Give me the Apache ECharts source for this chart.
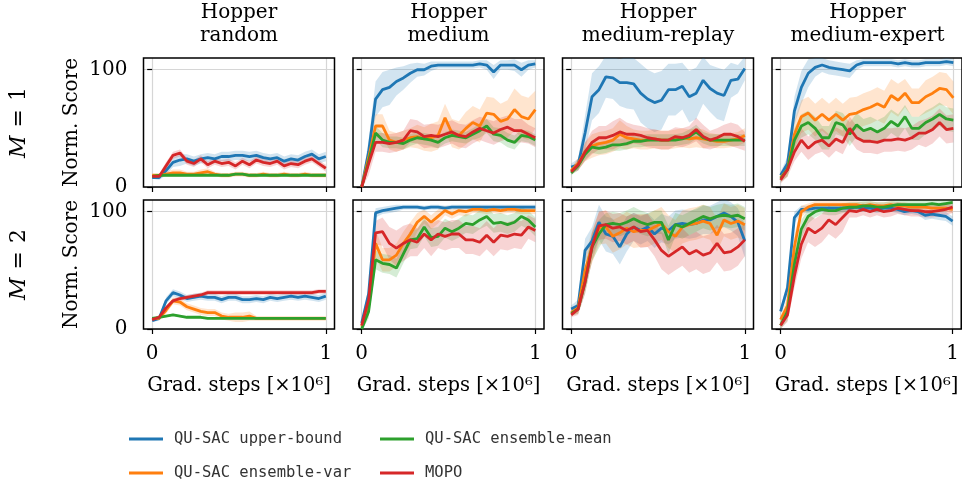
<!DOCTYPE html>
<html>
<head>
<meta charset="utf-8">
<script src="https://cdn.jsdelivr.net/npm/echarts@6/dist/echarts.min.js"></script>
<style>
  html, body { margin: 0; padding: 0; background: #fff; }
  #chart { width: 962px; height: 488px; }
</style>
</head>
<body>
<div id="chart"></div>
<script>
// x positions of the logged points (in 1e6 grad. steps)
const steps = [0, 0.04, 0.08, 0.12, 0.16, 0.2, 0.24, 0.28, 0.32, 0.36, 0.4, 0.44, 0.48,
  0.52, 0.56, 0.6, 0.64, 0.68, 0.72, 0.76, 0.8, 0.84, 0.88, 0.92, 0.96, 1];

const methodNames = ['QU-SAC upper-bound', 'QU-SAC ensemble-var', 'QU-SAC ensemble-mean', 'MOPO'];
const colors = ['#1f77b4', '#ff7f0e', '#2ca02c', '#d62728'];
const datasets = ['random', 'medium', 'medium-replay', 'medium-expert'];
const rowLabels = ['1', '2'];
const yTicks = [0, 100];
const xTicks = [0, 1];

// ---- M = 1 ----
const rnd1Ub = [8, 8, 14, 21, 23, 24, 22, 24, 25, 24, 26, 26, 27, 27, 26, 27, 25, 24, 25, 22, 24, 23, 26, 28, 24, 26];
const rnd1UbSd = [1, 2, 4, 4, 5, 4, 4, 4, 4, 4, 4, 4, 4, 4, 4, 4, 4, 4, 4, 4, 4, 4, 4, 4, 4, 4];
const rnd1Var = [10, 10, 11, 12, 12, 11, 11, 12, 13, 11, 10, 10, 11, 11, 10, 10, 11, 10, 10, 11, 10, 10, 11, 10, 10, 10];
const rnd1VarSd = [1, 1, 2, 3, 3, 2, 2, 3, 3, 2, 2, 2, 2, 2, 2, 2, 2, 2, 2, 2, 2, 2, 2, 2, 2, 2];
const rnd1Mean = [9, 10, 10, 10, 10, 10, 10, 10, 10, 10, 10, 10, 11, 11, 10, 10, 10, 10, 10, 10, 10, 10, 10, 10, 10, 10];
const rnd1MeanSd = [1, 1, 1, 1, 1, 1, 1, 1, 1, 1, 1, 1, 1, 1, 1, 1, 1, 1, 1, 1, 1, 1, 1, 1, 1, 1];
const rnd1Mopo = [9, 9, 18, 27, 29, 22, 20, 24, 19, 22, 20, 21, 18, 22, 19, 23, 21, 20, 22, 18, 20, 19, 22, 24, 20, 16];
const rnd1MopoSd = [1, 2, 3, 3, 3, 3, 3, 3, 3, 3, 3, 3, 3, 3, 3, 3, 3, 3, 3, 3, 3, 3, 3, 3, 3, 3];

const med1Ub = [0, 30, 75, 83, 85, 90, 93, 97, 100, 100, 103, 104, 104, 104, 104, 104, 104, 105, 104, 98, 104, 104, 104, 100, 104, 105];
const med1UbSd = [2, 10, 15, 15, 15, 12, 10, 8, 6, 5, 4, 3, 3, 3, 3, 3, 3, 3, 4, 6, 4, 4, 5, 6, 4, 3];
const med1Var = [0, 25, 52, 52, 40, 38, 40, 42, 43, 41, 42, 44, 59, 46, 44, 50, 55, 52, 63, 62, 56, 58, 66, 60, 58, 66];
const med1VarSd = [2, 8, 10, 10, 8, 8, 8, 8, 10, 10, 12, 12, 12, 12, 12, 14, 14, 14, 14, 14, 15, 16, 18, 18, 18, 16];
const med1Mean = [0, 22, 46, 40, 38, 38, 37, 40, 42, 41, 40, 38, 42, 44, 43, 42, 45, 48, 52, 45, 44, 40, 38, 44, 43, 40];
const med1MeanSd = [2, 6, 6, 6, 5, 5, 5, 5, 5, 5, 5, 5, 5, 5, 5, 5, 5, 6, 6, 6, 6, 6, 6, 5, 5, 5];
const med1Mopo = [0, 20, 38, 38, 37, 38, 40, 48, 47, 43, 44, 43, 45, 47, 44, 43, 47, 50, 48, 46, 49, 51, 48, 48, 45, 42];
const med1MopoSd = [2, 10, 8, 8, 8, 8, 8, 10, 10, 10, 10, 10, 10, 10, 10, 10, 10, 10, 10, 10, 10, 10, 10, 10, 8, 8];

const rep1Ub = [17, 19, 46, 77, 83, 94, 93, 89, 89, 88, 80, 75, 72, 74, 83, 83, 86, 77, 80, 91, 84, 80, 78, 91, 92, 101];
const rep1UbSd = [3, 5, 15, 20, 20, 18, 18, 20, 22, 22, 25, 25, 25, 25, 22, 22, 20, 22, 22, 20, 20, 22, 22, 15, 12, 10];
const rep1Var = [14, 20, 30, 35, 37, 38, 40, 45, 42, 41, 40, 40, 41, 40, 40, 41, 42, 41, 42, 41, 40, 39, 39, 40, 41, 44];
const rep1VarSd = [2, 5, 8, 10, 10, 10, 10, 12, 10, 8, 8, 8, 8, 8, 8, 8, 8, 8, 8, 8, 6, 6, 6, 6, 6, 6];
const rep1Mean = [12, 18, 28, 34, 33, 34, 36, 36, 37, 39, 39, 40, 40, 40, 40, 40, 41, 43, 47, 42, 40, 40, 40, 40, 40, 40];
const rep1MeanSd = [2, 4, 5, 5, 5, 5, 5, 5, 5, 5, 5, 5, 5, 5, 5, 5, 5, 6, 6, 5, 5, 5, 5, 5, 5, 5];
const rep1Mopo = [13, 19, 30, 38, 42, 42, 44, 47, 45, 45, 44, 42, 41, 40, 40, 43, 42, 44, 49, 43, 40, 42, 45, 45, 43, 39];
const rep1MopoSd = [2, 5, 8, 10, 10, 10, 12, 12, 10, 8, 8, 8, 8, 8, 8, 8, 8, 8, 10, 10, 8, 8, 8, 10, 10, 8];

const exp1Ub = [10, 20, 65, 85, 97, 102, 104, 102, 101, 100, 99, 104, 106, 106, 106, 106, 106, 105, 106, 105, 105, 106, 106, 106, 107, 106];
const exp1UbSd = [3, 6, 12, 14, 12, 8, 6, 6, 6, 6, 6, 4, 3, 3, 3, 3, 3, 3, 3, 3, 3, 3, 3, 3, 3, 3];
const exp1Var = [8, 15, 45, 60, 63, 57, 62, 57, 62, 57, 62, 63, 66, 68, 71, 68, 78, 74, 80, 72, 72, 77, 80, 84, 83, 76];
const exp1VarSd = [3, 6, 12, 14, 14, 14, 14, 14, 14, 14, 14, 14, 14, 14, 14, 14, 14, 14, 12, 12, 12, 14, 14, 14, 14, 14];
const exp1Mean = [7, 15, 40, 52, 55, 50, 42, 42, 55, 53, 45, 53, 48, 50, 47, 50, 56, 52, 60, 50, 50, 55, 58, 62, 58, 57];
const exp1MeanSd = [3, 6, 10, 10, 10, 10, 10, 10, 10, 10, 10, 10, 10, 10, 10, 10, 10, 10, 10, 10, 10, 10, 10, 10, 10, 10];
const exp1Mopo = [6, 15, 30, 40, 33, 38, 40, 35, 41, 38, 50, 42, 39, 39, 38, 40, 40, 41, 40, 42, 46, 46, 49, 55, 49, 50];
const exp1MopoSd = [3, 6, 8, 10, 10, 10, 10, 10, 10, 10, 10, 10, 10, 10, 10, 10, 10, 10, 10, 10, 10, 12, 12, 12, 12, 12];

// ---- M = 2 ----
const rnd2Ub = [7, 9, 24, 31, 29, 26, 27, 28, 27, 27, 25, 27, 27, 25, 25, 26, 25, 27, 26, 27, 28, 27, 28, 27, 26, 28];
const rnd2UbSd = [1, 2, 3, 3, 3, 3, 3, 3, 3, 3, 3, 3, 3, 3, 3, 3, 3, 3, 3, 3, 3, 3, 3, 3, 3, 3];
const rnd2Var = [9, 9, 16, 24, 23, 19, 17, 15, 14, 14, 11, 10, 10, 10, 11, 9, 9, 9, 9, 9, 9, 9, 9, 9, 9, 9];
const rnd2VarSd = [1, 1, 3, 3, 3, 3, 3, 3, 3, 3, 3, 3, 4, 4, 4, 2, 2, 2, 2, 2, 2, 2, 2, 2, 2, 2];
const rnd2Mean = [9, 10, 11, 12, 11, 10, 10, 10, 9, 9, 9, 9, 9, 9, 9, 9, 9, 9, 9, 9, 9, 9, 9, 9, 9, 9];
const rnd2MeanSd = [1, 1, 1, 1, 1, 1, 1, 1, 1, 1, 1, 1, 1, 1, 1, 1, 1, 1, 1, 1, 1, 1, 1, 1, 1, 1];
const rnd2Mopo = [8, 10, 18, 24, 26, 27, 28, 29, 31, 31, 31, 31, 31, 31, 31, 31, 31, 31, 31, 31, 31, 31, 31, 31, 32, 32];
const rnd2MopoSd = [1, 2, 2, 2, 2, 2, 2, 2, 2, 2, 2, 2, 2, 2, 2, 2, 2, 2, 2, 2, 2, 2, 2, 2, 2, 2];

const med2Ub = [5, 30, 99, 101, 102, 103, 104, 104, 104, 103, 104, 104, 103, 104, 104, 104, 104, 104, 104, 104, 104, 104, 104, 104, 104, 104];
const med2UbSd = [2, 6, 4, 3, 3, 3, 2, 2, 2, 2, 2, 2, 2, 2, 2, 2, 2, 2, 2, 2, 2, 2, 2, 2, 2, 2];
const med2Var = [2, 20, 73, 59, 59, 63, 73, 81, 91, 96, 91, 96, 101, 98, 101, 100, 102, 102, 101, 102, 101, 102, 102, 101, 101, 101];
const med2VarSd = [2, 8, 12, 10, 10, 10, 10, 10, 8, 6, 6, 6, 4, 4, 4, 4, 3, 3, 3, 3, 3, 3, 3, 3, 3, 3];
const med2Mean = [0, 15, 59, 56, 55, 52, 64, 76, 77, 87, 78, 79, 86, 83, 86, 90, 89, 93, 96, 90, 91, 89, 91, 96, 93, 87];
const med2MeanSd = [2, 6, 8, 8, 8, 8, 8, 8, 8, 8, 8, 8, 8, 8, 8, 8, 8, 8, 8, 8, 8, 8, 8, 8, 8, 8];
const med2Mopo = [3, 25, 82, 83, 73, 69, 73, 76, 74, 81, 76, 81, 79, 81, 81, 76, 76, 74, 80, 74, 80, 79, 81, 80, 87, 84];
const med2MopoSd = [2, 8, 10, 12, 14, 15, 15, 14, 12, 12, 14, 12, 12, 12, 12, 12, 12, 12, 12, 12, 12, 12, 12, 12, 10, 10];

const rep2Ub = [17, 20, 67, 75, 91, 81, 79, 70, 81, 87, 84, 87, 81, 86, 84, 89, 90, 89, 90, 93, 93, 96, 99, 96, 91, 75];
const rep2UbSd = [3, 5, 10, 12, 15, 15, 15, 15, 15, 12, 12, 12, 12, 12, 12, 12, 12, 12, 12, 12, 12, 12, 12, 12, 12, 14];
const rep2Var = [14, 18, 50, 70, 86, 87, 79, 82, 86, 83, 84, 84, 87, 90, 83, 79, 87, 89, 90, 92, 90, 80, 93, 90, 92, 89];
const rep2VarSd = [2, 5, 12, 14, 14, 14, 14, 14, 14, 14, 14, 14, 14, 14, 14, 14, 14, 14, 14, 14, 14, 14, 14, 14, 14, 14];
const rep2Mean = [13, 17, 40, 70, 81, 89, 90, 89, 91, 94, 91, 89, 91, 91, 76, 89, 87, 90, 93, 96, 94, 96, 97, 96, 97, 94];
const rep2MeanSd = [2, 4, 10, 12, 12, 10, 10, 10, 10, 10, 10, 10, 10, 10, 12, 10, 10, 10, 10, 10, 10, 10, 10, 10, 10, 10];
const rep2Mopo = [12, 17, 40, 70, 88, 89, 86, 87, 84, 87, 83, 84, 76, 67, 62, 66, 70, 64, 67, 63, 65, 73, 65, 66, 70, 76];
const rep2MopoSd = [2, 5, 10, 12, 12, 12, 12, 12, 12, 12, 14, 14, 14, 16, 16, 16, 16, 16, 16, 16, 16, 16, 16, 16, 16, 14];

const exp2Ub = [15, 35, 95, 102, 102, 103, 103, 103, 103, 103, 103, 104, 103, 103, 102, 103, 103, 102, 100, 101, 100, 97, 98, 97, 96, 92];
const exp2UbSd = [3, 6, 5, 3, 3, 3, 3, 3, 3, 3, 3, 3, 3, 3, 3, 3, 3, 3, 3, 3, 3, 4, 4, 4, 4, 4];
const exp2Var = [8, 20, 70, 100, 104, 106, 106, 106, 106, 106, 106, 106, 105, 106, 105, 105, 106, 105, 105, 104, 104, 104, 103, 103, 103, 102];
const exp2VarSd = [3, 8, 10, 5, 3, 3, 3, 3, 3, 3, 3, 3, 3, 3, 3, 3, 3, 3, 3, 3, 3, 3, 3, 3, 3, 3];
const exp2Mean = [3, 15, 55, 85, 96, 100, 102, 101, 101, 103, 104, 104, 105, 105, 104, 104, 105, 106, 106, 106, 106, 106, 107, 106, 107, 108];
const exp2MeanSd = [3, 8, 10, 8, 6, 5, 4, 4, 4, 4, 4, 4, 4, 4, 4, 4, 4, 4, 4, 4, 4, 4, 4, 4, 4, 4];
const exp2Mopo = [3, 12, 45, 72, 86, 82, 86, 93, 89, 95, 101, 100, 102, 100, 102, 100, 101, 103, 102, 101, 101, 100, 100, 101, 102, 104];
const exp2MopoSd = [3, 6, 10, 12, 12, 12, 12, 12, 12, 12, 6, 5, 5, 5, 5, 5, 5, 5, 5, 5, 5, 5, 5, 5, 5, 5];

const panels = [
  [[rnd1Ub, rnd1UbSd], [rnd1Var, rnd1VarSd], [rnd1Mean, rnd1MeanSd], [rnd1Mopo, rnd1MopoSd]],
  [[med1Ub, med1UbSd], [med1Var, med1VarSd], [med1Mean, med1MeanSd], [med1Mopo, med1MopoSd]],
  [[rep1Ub, rep1UbSd], [rep1Var, rep1VarSd], [rep1Mean, rep1MeanSd], [rep1Mopo, rep1MopoSd]],
  [[exp1Ub, exp1UbSd], [exp1Var, exp1VarSd], [exp1Mean, exp1MeanSd], [exp1Mopo, exp1MopoSd]],
  [[rnd2Ub, rnd2UbSd], [rnd2Var, rnd2VarSd], [rnd2Mean, rnd2MeanSd], [rnd2Mopo, rnd2MopoSd]],
  [[med2Ub, med2UbSd], [med2Var, med2VarSd], [med2Mean, med2MeanSd], [med2Mopo, med2MopoSd]],
  [[rep2Ub, rep2UbSd], [rep2Var, rep2VarSd], [rep2Mean, rep2MeanSd], [rep2Mopo, rep2MopoSd]],
  [[exp2Ub, exp2UbSd], [exp2Var, exp2VarSd], [exp2Mean, exp2MeanSd], [exp2Mopo, exp2MopoSd]]
];

var SERIF = 'DejaVu Serif';
var MONO = 'DejaVu Sans Mono';

var colLeft = [143.5, 353, 562.5, 772];
var rowTop = [58, 200];
var boxW = 191, boxH = 129;

function fade(hex, a) {
  var r = parseInt(hex.slice(1, 3), 16), g = parseInt(hex.slice(3, 5), 16), b = parseInt(hex.slice(5, 7), 16);
  return 'rgba(' + r + ',' + g + ',' + b + ',' + a + ')';
}

// shaded band: one polygon (upper edge forward, lower edge back) through the axis scales
function bandSeries(k, mean, sd, color) {
  return {
    type: 'custom', xAxisIndex: k, yAxisIndex: k, silent: true, z: 2,
    data: steps.map(function (x, i) { return [x, mean[i] - sd[i], mean[i] + sd[i]]; }),
    encode: { x: 0, y: [1, 2] },
    renderItem: function (params, api) {
      if (params.dataIndex !== 0) return null;
      var pts = [];
      for (var i = 0; i < steps.length; i++) pts.push(api.coord([steps[i], mean[i] + sd[i]]));
      for (var j = steps.length - 1; j >= 0; j--) pts.push(api.coord([steps[j], mean[j] - sd[j]]));
      var cs = params.coordSys;
      return {
        type: 'polygon', shape: { points: pts },
        style: { fill: fade(color, 0.2) },
        clipPath: { type: 'rect', shape: { x: cs.x, y: cs.y, width: cs.width, height: cs.height } }
      };
    }
  };
}

var grids = [], xAxes = [], yAxes = [], series = [], graphics = [];

panels.forEach(function (curves, k) {
  var row = Math.floor(k / 4), col = k % 4;
  grids.push({
    left: colLeft[col], top: rowTop[row], width: boxW, height: boxH,
    show: true, borderColor: '#000', borderWidth: 1.5, z: 1
  });
  xAxes.push({
    gridIndex: k, type: 'value', min: -0.05, max: 1.05,
    axisLine: { show: false },
    axisTick: { show: true, customValues: xTicks, length: 5, lineStyle: { color: '#000', width: 1.2 } },
    splitLine: { show: true, lineStyle: { color: '#d6d6d6', width: 1.2 } },
    axisLabel: { show: row === 1, customValues: xTicks, margin: 15, color: '#000', fontFamily: SERIF, fontSize: 20 },
    name: row === 1 ? 'Grad. steps [×10⁶]' : '',
    nameLocation: 'middle', nameGap: 47,
    nameTextStyle: { color: '#000', fontFamily: SERIF, fontSize: 19.5 }
  });
  yAxes.push({
    gridIndex: k, type: 'value', min: 0, max: 110,
    axisLine: { show: false },
    axisTick: { show: true, customValues: yTicks, length: 5, lineStyle: { color: '#000', width: 1.2 } },
    splitLine: { show: true, lineStyle: { color: '#d6d6d6', width: 1.2 } },
    axisLabel: { show: col === 0, customValues: yTicks, margin: 16, color: '#000', fontFamily: SERIF, fontSize: 20 },
    name: col === 0 ? 'Norm. Score' : '',
    nameLocation: 'middle', nameGap: 62,
    nameTextStyle: { color: '#000', fontFamily: SERIF, fontSize: 20 }
  });
  curves.forEach(function (c, m) {
    var mean = c[0], sd = c[1];
    series.push({
      name: methodNames[m], type: 'line', xAxisIndex: k, yAxisIndex: k,
      data: steps.map(function (x, i) { return [x, mean[i]]; }),
      symbol: 'none', lineStyle: { width: 2.8, color: colors[m] }, itemStyle: { color: colors[m] },
      z: 2, silent: true
    });
    series.push(bandSeries(k, mean, sd, colors[m]));
  });
});

// column titles
datasets.forEach(function (d, col) {
  graphics.push({
    type: 'text', x: colLeft[col] + boxW / 2, y: 1,
    style: {
      text: 'Hopper\n' + d, align: 'center', verticalAlign: 'top',
      fontFamily: SERIF, fontSize: 20, lineHeight: 23, fill: '#000'
    }
  });
});
// row labels
rowLabels.forEach(function (r, row) {
  graphics.push({
    type: 'text', x: 19, y: rowTop[row] + boxH / 2, rotation: Math.PI / 2,
    style: {
      text: '{i|M}{e|=}{n|' + r + '}', align: 'center', verticalAlign: 'middle',
      rich: {
        i: { fontFamily: SERIF, fontSize: 22, fontStyle: 'italic', fill: '#000' },
        e: { fontFamily: SERIF, fontSize: 22, fill: '#000', padding: [0, 8, 0, 8] },
        n: { fontFamily: SERIF, fontSize: 22, fill: '#000' }
      }
    }
  });
});

var legendPos = [[129, 429], [129, 463], [380, 429], [380, 463]];
var legends = methodNames.map(function (n, m) {
  return {
    data: [n], left: legendPos[m][0], top: legendPos[m][1], padding: 0,
    icon: 'rect', itemWidth: 34, itemHeight: 3, selectedMode: false,
    textStyle: { fontFamily: MONO, fontSize: 15.5, color: '#333', lineHeight: 20, padding: [0, 0, 0, 6] }
  };
});

var chart = echarts.init(document.getElementById('chart'), null, { renderer: 'canvas' });
chart.setOption({
  animation: false,
  backgroundColor: '#fff',
  grid: grids,
  xAxis: xAxes,
  yAxis: yAxes,
  legend: legends,
  series: series,
  graphic: graphics
});
</script>
</body>
</html>
